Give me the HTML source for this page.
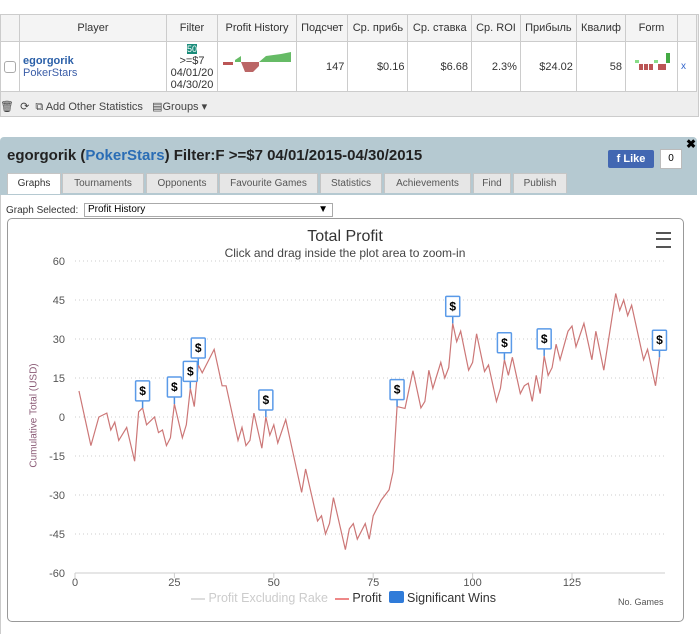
<!DOCTYPE html>
<html><head><meta charset="utf-8"><style>
body{margin:0;width:700px;height:636px;overflow:hidden;background:#fff;font-family:"Liberation Sans",sans-serif;position:relative}
.abs{position:absolute}
table{border-collapse:collapse;font-size:11px;color:#333}
td{border:1px solid #ccc;padding:0 3px}
.tab{position:absolute;top:173px;height:19px;background:#e6e6e6;border:1px solid #c5c5c5;border-bottom:none;font-size:10px;color:#555;line-height:19px;text-align:center}
</style></head><body>
<div class="abs" style="left:0;top:14px;width:697px;height:101px;background:#eee;border:1px solid #ccc"></div>
<table class="abs" style="left:0;top:14px;width:697px;background:#fff">
<tr style="height:27px;background:#f4f4f4;text-align:center">
<td style="width:8px"></td><td style="width:140px">Player</td><td style="width:44px">Filter</td><td style="width:72px">Profit History</td><td>Подсчет</td><td>Ср. прибь</td><td>Ср. ставка</td><td>Ср. ROI</td><td>Прибыль</td><td>Квалиф</td><td style="width:45px">Form</td><td style="width:12px"></td></tr>
<tr style="height:50px">
<td><div style="width:10px;height:10px;border:1px solid #aaa;border-radius:3px"></div></td>
<td><b style="color:#2a5fa8">egorgorik</b><br><span style="color:#3b5ea8">PokerStars</span></td>
<td style="text-align:center;line-height:12px"><span style="background:#1a8c7a;color:#fff;font-size:9px">50</span><br>&gt;=$7<br>04/01/20<br>04/30/20</td>
<td><svg width="72" height="30"><path d="M2 12h10v3H2z" fill="#b55"/><path d="M14 10 L20 6 L20 12 L14 12z" fill="#6b6"/><path d="M20 12h18v4l-6 6h-8z" fill="#b66"/><path d="M38 12 L45 6 L60 4 L70 2 L70 12z" fill="#6b6"/></svg></td>
<td style="text-align:right">147</td><td style="text-align:right">$0.16</td><td style="text-align:right">$6.68</td><td style="text-align:right">2.3%</td><td style="text-align:right">$24.02</td><td style="text-align:right">58</td>
<td><svg width="45" height="30"><rect x="6" y="10" width="4" height="3" fill="#8d8"/><rect x="10" y="14" width="4" height="6" fill="#b55"/><rect x="15" y="14" width="4" height="6" fill="#b55"/><rect x="20" y="14" width="4" height="6" fill="#b55"/><rect x="25" y="10" width="4" height="3" fill="#8d8"/><rect x="29" y="14" width="4" height="6" fill="#b55"/><rect x="33" y="14" width="4" height="6" fill="#b55"/><rect x="37" y="3" width="4" height="10" fill="#4a4"/></svg></td>
<td style="color:#36c;font-size:10px">x</td></tr></table>
<div class="abs" style="left:0;top:100px;font-size:11px;color:#444">🗑 &nbsp;⟳ &nbsp;<span>⧉ Add Other Statistics</span> &nbsp; <span>▤Groups ▾</span></div>

<div class="abs" style="left:0;top:137px;width:697px;height:497px;border-radius:4px 4px 0 0;background:#b5c9d1"></div>
<div class="abs" style="left:0;top:195px;width:697px;height:439px;background:#fff;border-left:1px solid #ccc"></div>
<div class="abs" style="left:7px;top:147px;font-size:15px;font-weight:bold;color:#222">egorgorik (<span style="color:#2a6db5">PokerStars</span>) Filter:F &gt;=$7 04/01/2015-04/30/2015</div>
<div class="abs" style="left:686px;top:137px;font-size:12px;font-weight:bold">✖</div>
<div class="abs" style="left:608px;top:150px;width:46px;height:18px;background:#4267b2;color:#fff;font-size:11px;font-weight:bold;line-height:18px;border-radius:2px;text-align:center">f Like</div>
<div class="abs" style="left:660px;top:149px;width:20px;height:18px;background:#fff;border:1px solid #bbb;font-size:10px;text-align:center;line-height:18px">0</div>
<div class="tab" style="left:7px;width:52px;background:#fff;height:20px;color:#333">Graphs</div>
<div class="tab" style="left:62px;width:80px">Tournaments</div>
<div class="tab" style="left:146px;width:70px">Opponents</div>
<div class="tab" style="left:219px;width:97px">Favourite Games</div>
<div class="tab" style="left:320px;width:60px">Statistics</div>
<div class="tab" style="left:384px;width:85px">Achievements</div>
<div class="tab" style="left:473px;width:36px">Find</div>
<div class="tab" style="left:513px;width:52px">Publish</div>
<div class="abs" style="left:6px;top:205px;font-size:10px;color:#333">Graph Selected:</div>
<div class="abs" style="left:84px;top:203px;width:244px;height:12px;border:1px solid #aaa;font-size:10px;line-height:12px;padding-left:3px">Profit History<span style="position:absolute;right:4px">▼</span></div>
<div class="abs" style="left:7px;top:218px;width:675px;height:402px;border:1px solid #999;border-radius:5px"></div>
<svg class="abs" id="chart" style="left:0;top:0" width="700" height="636"></svg>
<script>
const games=[1,4,6,8,9,10,11,13,15,16,17,18,20,21,22,23,24,25,27,28,29,30,31,32,33,35,37,38,41,42,43,44,45,47,48,49,50,51,53,57,58,61,62,63,64,65,68,69,70,71,73,74,75,77,79,80,81,83,85,87,88,89,90,92,93,94,95,96,97,99,100,101,103,104,106,107,108,109,110,112,113,114,115,116,117,118,119,120,121,122,124,125,126,128,130,131,133,136,137,138,139,140,143,144,146,147];
const profit=[10,-11,0,1.5,-5,-2,-9,-4,-17,2,3.5,-3,0,-6,-5,-11,-8,5,-8,-3,11,4,20,17,20,26,12,12,-9,-4,-11,-9,1.5,-12,0,-7,-3,-10,-1,-29,-20,-40,-38,-45,-41,-31,-51,-43,-41,-47,-41,-47,-38,-32,-28,-21,4,3.3,17.8,3.5,6,18,11,21,15,19,36,29,33,18,21,32,17.5,20,6,11,22,16,23,9,12,13,6,16,9,23.5,16,19,28,22,33,35,27,36,22,33,18,47.5,41,45,39,43,22,26,12,23];
const winGames=[17,25,29,31,48,81,95,108,118,147];
const yTicks=[60,45,30,15,0,-15,-30,-45,-60];
const xTicks=[0,25,50,75,100,125];
const NS='http://www.w3.org/2000/svg',svg=document.getElementById('chart');
const X=v=>75+v*3.976, Y=v=>417-v*2.6;
function mk(t,a,txt){const e=document.createElementNS(NS,t);for(const k in a)e.setAttribute(k,a[k]);if(txt!=null)e.textContent=txt;svg.appendChild(e);return e;}
yTicks.forEach(t=>{
 const g=mk('line',{x1:75,x2:665,y1:Y(t),y2:Y(t),stroke:'#ccc','stroke-dasharray':'1,3'});
 
 
 const l=mk('text',{x:65,y:Y(t)+4,'text-anchor':'end','font-size':11,fill:'#555'},t);
 
 
});
const ax=mk('line',{x1:75,x2:665,y1:573,y2:573,stroke:'#ccc'});


xTicks.forEach(t=>{
 mk('line',{x1:X(t),x2:X(t),y1:573,y2:578,stroke:'#ccc'});
 const l=mk('text',{x:X(t),y:586,'text-anchor':'middle','font-size':11,fill:'#555'},t);
 
 
});
const line=mk('polyline',{points:games.map((g,i)=>X(g)+','+Y(profit[i])).join(' '),fill:'none',stroke:'#c77',"stroke-width":1.2});


winGames.forEach(g=>{
 const i=games.indexOf(g);const px=X(g),py=Y(profit[i]);
 mk('line',{x1:px,x2:px,y1:py,y2:py-7,stroke:'#4a8fe0','stroke-width':1.5});
 const r=mk('rect',{x:px-7,y:py-27,width:14,height:20,fill:'#fff',stroke:'#5a9ae8','stroke-width':1.5,rx:1});
 
 
 mk('text',{x:px,y:py-13,'text-anchor':'middle','font-size':12,'font-weight':'bold',fill:'#000'},'$');
});
</script>
<div class="abs" style="left:0;width:690px;top:228px;text-align:center;font-size:16px;color:#333">Total Profit</div>
<div class="abs" style="left:0;width:690px;top:246px;text-align:center;font-size:12px;color:#444">Click and drag inside the plot area to zoom-in</div>
<div class="abs" style="left:656px;top:232px;width:15px;height:12px;border-top:2px solid #555;border-bottom:2px solid #555"><div style="margin-top:4px;height:2px;background:#555"></div></div>
<div class="abs" style="left:-26px;top:410px;width:120px;text-align:center;font-size:10px;color:#8a5a75;transform:rotate(-90deg)">Cumulative Total (USD)</div>
<div class="abs" style="left:191px;top:591px;font-size:12.5px;color:#333;white-space:nowrap">
<span style="color:#ccc"><span style="display:inline-block;width:14px;height:2px;background:#ddd;vertical-align:middle"></span> Profit Excluding Rake</span>
&nbsp;<span><span style="display:inline-block;width:14px;height:2px;background:#e88;vertical-align:middle"></span> Profit</span>
&nbsp;<span><span style="display:inline-block;width:15px;height:12px;background:#2f7bd9;border-radius:2px;vertical-align:-1px"></span> Significant Wins</span></div>
<div class="abs" style="left:618px;top:597px;font-size:9px;color:#555">No. Games</div>
</body></html>
